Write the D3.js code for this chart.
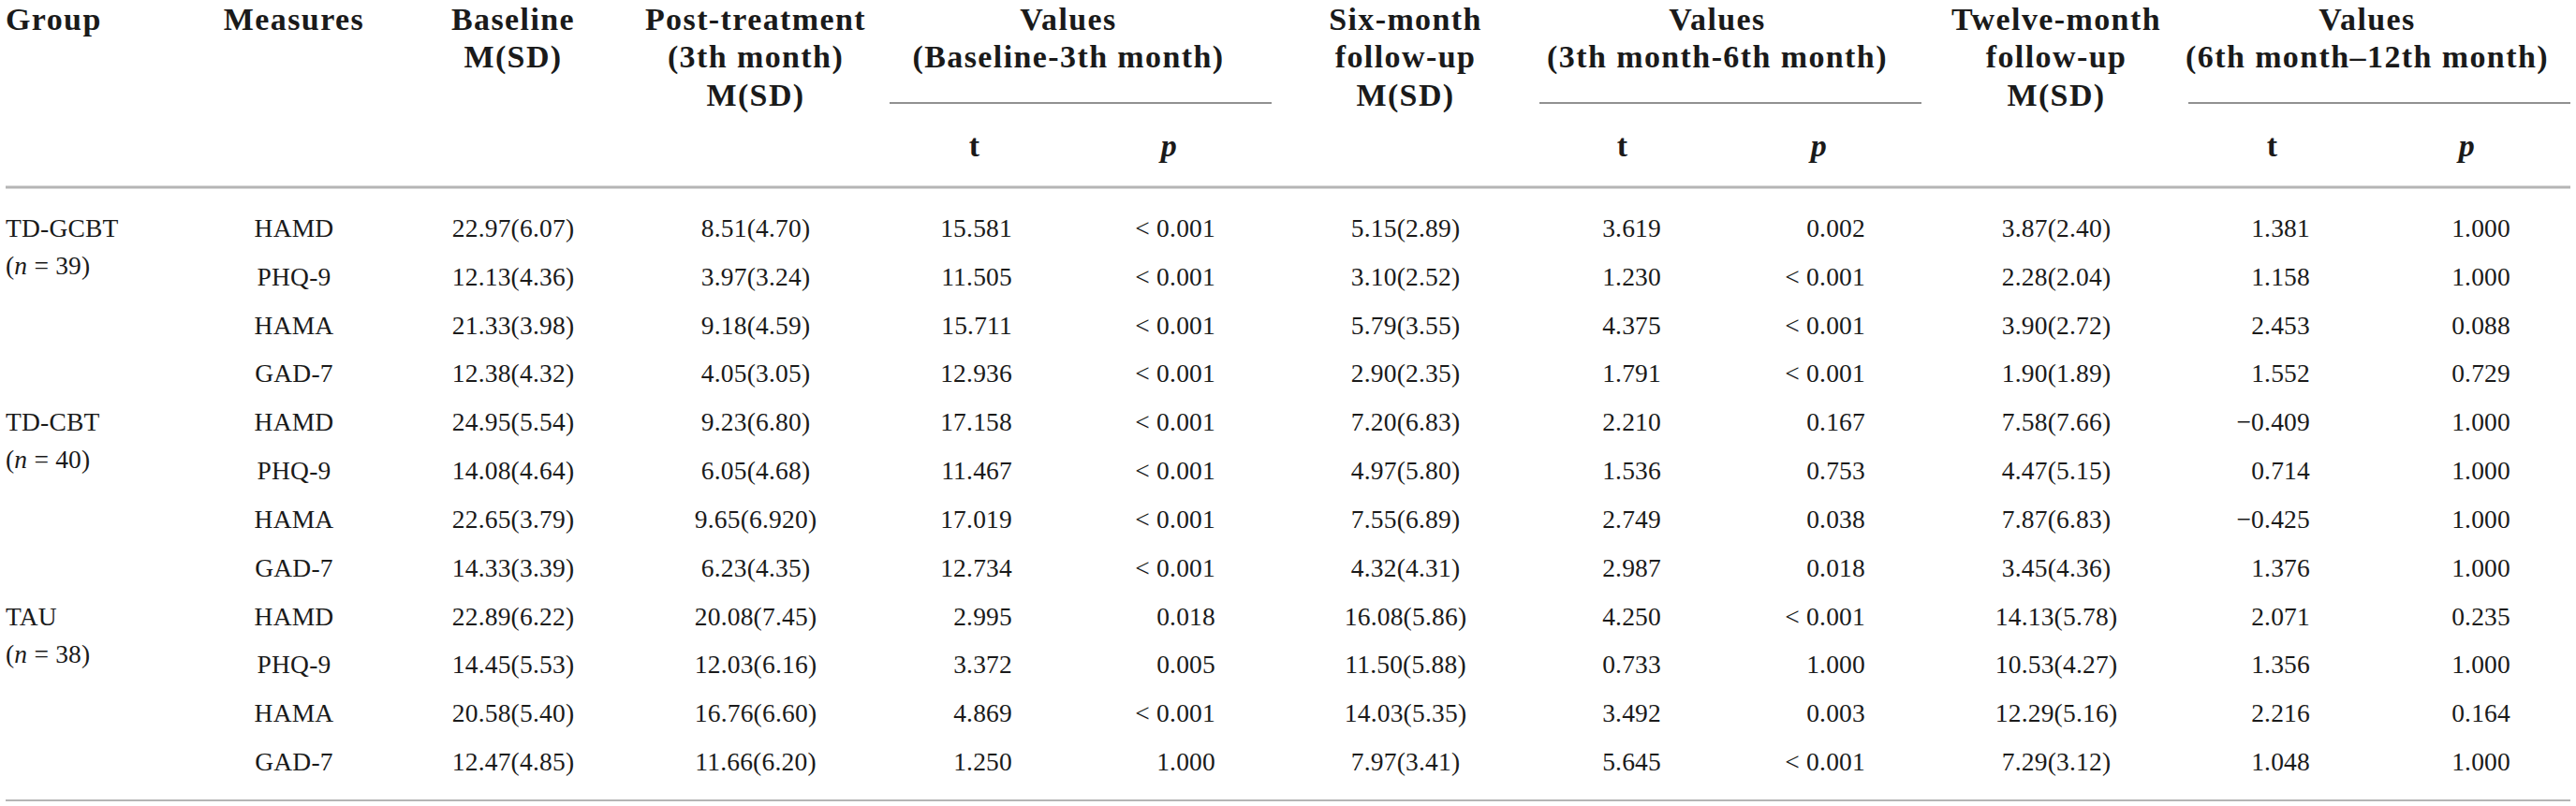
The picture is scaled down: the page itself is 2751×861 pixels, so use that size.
<!DOCTYPE html>
<html>
<head>
<meta charset="utf-8">
<script src="https://cdn.jsdelivr.net/npm/d3@7"></script>
<style>
    body { margin: 0; background: #fff; }
    svg text { font-family: "Liberation Serif", "Times New Roman", serif; fill: #1a1a1a; }
    .head { font-size: 34px; font-weight: bold; letter-spacing: 1.4px; }
    .cell { font-size: 27.5px; letter-spacing: 0.2px; }
</style>
</head>
<body>
<div id="table"></div>
<script>
// table data, row by row
var groups = ["TD-GCBT", "TD-CBT", "TAU"];
var groupN = [39, 40, 38];
var measures = ["HAMD", "PHQ-9", "HAMA", "GAD-7"];

var baseline = ["22.97(6.07)", "12.13(4.36)", "21.33(3.98)", "12.38(4.32)",
                "24.95(5.54)", "14.08(4.64)", "22.65(3.79)", "14.33(3.39)",
                "22.89(6.22)", "14.45(5.53)", "20.58(5.40)", "12.47(4.85)"];
var post = ["8.51(4.70)", "3.97(3.24)", "9.18(4.59)", "4.05(3.05)",
            "9.23(6.80)", "6.05(4.68)", "9.65(6.920)", "6.23(4.35)",
            "20.08(7.45)", "12.03(6.16)", "16.76(6.60)", "11.66(6.20)"];
var t1 = ["15.581", "11.505", "15.711", "12.936",
          "17.158", "11.467", "17.019", "12.734",
          "2.995", "3.372", "4.869", "1.250"];
var p1 = ["< 0.001", "< 0.001", "< 0.001", "< 0.001",
          "< 0.001", "< 0.001", "< 0.001", "< 0.001",
          "0.018", "0.005", "< 0.001", "1.000"];
var six = ["5.15(2.89)", "3.10(2.52)", "5.79(3.55)", "2.90(2.35)",
           "7.20(6.83)", "4.97(5.80)", "7.55(6.89)", "4.32(4.31)",
           "16.08(5.86)", "11.50(5.88)", "14.03(5.35)", "7.97(3.41)"];
var t2 = ["3.619", "1.230", "4.375", "1.791",
          "2.210", "1.536", "2.749", "2.987",
          "4.250", "0.733", "3.492", "5.645"];
var p2 = ["0.002", "< 0.001", "< 0.001", "< 0.001",
          "0.167", "0.753", "0.038", "0.018",
          "< 0.001", "1.000", "0.003", "< 0.001"];
var twelve = ["3.87(2.40)", "2.28(2.04)", "3.90(2.72)", "1.90(1.89)",
              "7.58(7.66)", "4.47(5.15)", "7.87(6.83)", "3.45(4.36)",
              "14.13(5.78)", "10.53(4.27)", "12.29(5.16)", "7.29(3.12)"];
var t3 = ["1.381", "1.158", "2.453", "1.552",
          "\u22120.409", "0.714", "\u22120.425", "1.376",
          "2.071", "1.356", "2.216", "1.048"];
var p3 = ["1.000", "1.000", "0.088", "0.729",
          "1.000", "1.000", "1.000", "1.000",
          "0.235", "1.000", "0.164", "1.000"];

var width = 2751, height = 861;

var svg = d3.select("#table").append("svg")
    .attr("width", width)
    .attr("height", height);

// columns: x position and anchor of the body cells
var columns = [
    {key: "measure", x: 314, anchor: "middle"},
    {key: "baseline", x: 548, anchor: "middle", values: baseline},
    {key: "post", x: 807, anchor: "middle", values: post},
    {key: "t1", x: 1081, anchor: "end", values: t1},
    {key: "p1", x: 1298, anchor: "end", values: p1},
    {key: "six", x: 1501, anchor: "middle", values: six},
    {key: "t2", x: 1774, anchor: "end", values: t2},
    {key: "p2", x: 1992, anchor: "end", values: p2},
    {key: "twelve", x: 2196, anchor: "middle", values: twelve},
    {key: "t3", x: 2467, anchor: "end", values: t3},
    {key: "p3", x: 2681, anchor: "end", values: p3}
];

var rowCount = groups.length * measures.length;
var y = d3.scalePoint()
    .domain(d3.range(rowCount))
    .range([253, 823]);

// ---------- header ----------
var headLines = [32, 72, 113];
var headers = [
    {x: 6, anchor: "start", lines: ["Group"]},
    {x: 314, anchor: "middle", lines: ["Measures"]},
    {x: 548, anchor: "middle", lines: ["Baseline", "M(SD)"]},
    {x: 807, anchor: "middle", lines: ["Post-treatment", "(3th month)", "M(SD)"]},
    {x: 1141, anchor: "middle", lines: ["Values", "(Baseline-3th month)"]},
    {x: 1501, anchor: "middle", lines: ["Six-month", "follow-up", "M(SD)"]},
    {x: 1834, anchor: "middle", lines: ["Values", "(3th month-6th month)"]},
    {x: 2196, anchor: "middle", lines: ["Twelve-month", "follow-up", "M(SD)"]},
    {x: 2528, anchor: "middle", lines: ["Values", "(6th month\u201312th month)"]}
];

var head = svg.append("g").attr("class", "header");
headers.forEach(function (h) {
    h.lines.forEach(function (line, i) {
        head.append("text")
            .attr("class", "head")
            .attr("x", h.x)
            .attr("y", headLines[i])
            .attr("text-anchor", h.anchor)
            .text(line);
    });
});

// spanner lines under the "Values" headers, with t / p below
var spans = [
    {x1: 950, x2: 1358, t: 1041, p: 1249},
    {x1: 1644, x2: 2052, t: 1733, p: 1943},
    {x1: 2337, x2: 2745, t: 2427, p: 2635}
];

head.selectAll(".span")
    .data(spans)
    .enter().append("line")
    .attr("class", "span")
    .attr("x1", function (d) { return d.x1; })
    .attr("x2", function (d) { return d.x2; })
    .attr("y1", 110)
    .attr("y2", 110)
    .attr("stroke", "#6d6d6d")
    .attr("stroke-width", 1.5);

spans.forEach(function (s) {
    head.append("text")
        .attr("class", "head")
        .attr("x", s.t)
        .attr("y", 167)
        .attr("text-anchor", "middle")
        .text("t");
    head.append("text")
        .attr("class", "head")
        .attr("x", s.p)
        .attr("y", 167)
        .attr("text-anchor", "middle")
        .style("font-style", "italic")
        .text("p");
});

// rules
svg.append("line")
    .attr("x1", 6).attr("x2", 2745)
    .attr("y1", 200).attr("y2", 200)
    .attr("stroke", "#b5b5b5")
    .attr("stroke-width", 3);

svg.append("line")
    .attr("x1", 6).attr("x2", 2745)
    .attr("y1", 855).attr("y2", 855)
    .attr("stroke", "#b5b5b5")
    .attr("stroke-width", 2);

// ---------- body ----------
var body = svg.append("g").attr("class", "body");

// group labels
groups.forEach(function (g, i) {
    var row = i * measures.length;
    body.append("text")
        .attr("class", "cell")
        .attr("x", 6)
        .attr("y", y(row))
        .text(g);

    var n = body.append("text")
        .attr("class", "cell")
        .attr("x", 6)
        .attr("y", y(row) + 40);
    n.append("tspan").text("(");
    n.append("tspan").style("font-style", "italic").text("n");
    n.append("tspan").text(" = " + groupN[i] + ")");
});

// measures
body.selectAll(".measure")
    .data(d3.range(rowCount))
    .enter().append("text")
    .attr("class", "cell measure")
    .attr("x", columns[0].x)
    .attr("y", function (d) { return y(d); })
    .attr("text-anchor", "middle")
    .text(function (d) { return measures[d % measures.length]; });

// value columns
columns.slice(1).forEach(function (col) {
    body.selectAll("." + col.key)
        .data(col.values)
        .enter().append("text")
        .attr("class", "cell " + col.key)
        .attr("x", col.x)
        .attr("y", function (d, i) { return y(i); })
        .attr("text-anchor", col.anchor)
        .text(function (d) { return d; });
});
</script>
</body>
</html>
